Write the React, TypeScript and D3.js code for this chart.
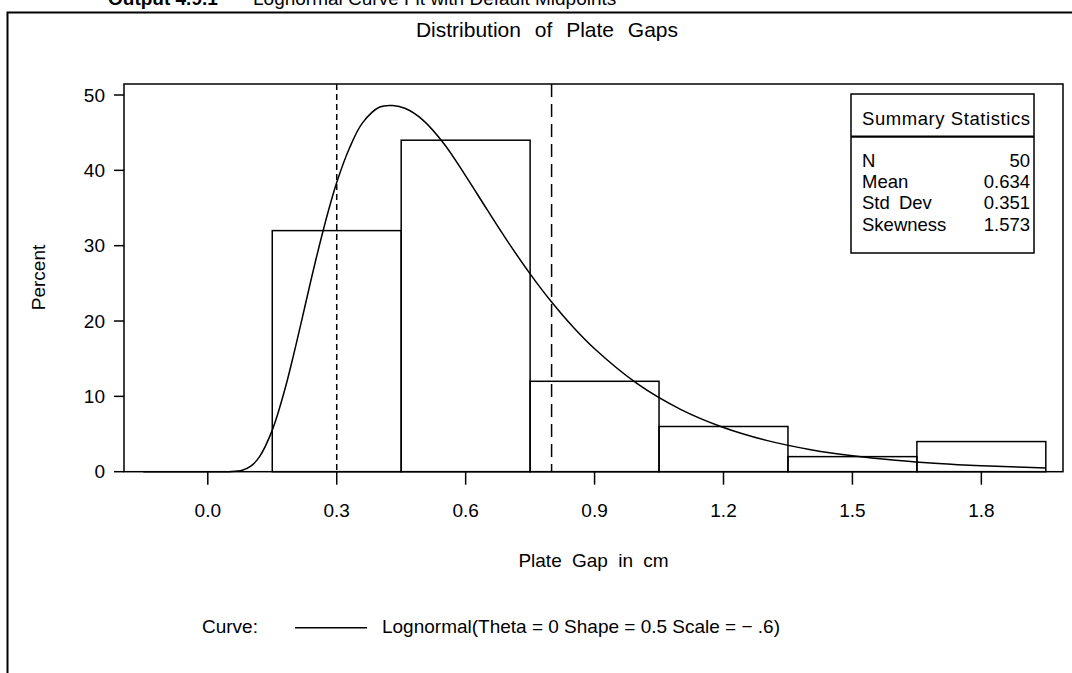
import React from "react";
import * as d3 from "d3";

const binStarts = [0.15, 0.45, 0.75, 1.05, 1.35, 1.65];
const binWidth = 0.3;
const binPercents = [32, 44, 12, 6, 2, 4];

const xTicks = [0.0, 0.3, 0.6, 0.9, 1.2, 1.5, 1.8];
const yTicks = [0, 10, 20, 30, 40, 50];

const curveX = [-0.15, 0, 0.05, 0.08, 0.1, 0.12, 0.15, 0.18, 0.2, 0.22, 0.25, 0.28, 0.3, 0.33, 0.36, 0.4, 0.43, 0.46, 0.5, 0.55, 0.6, 0.65, 0.7, 0.75, 0.8, 0.85, 0.9, 1.0, 1.1, 1.2, 1.3, 1.4, 1.5, 1.6, 1.7, 1.8, 1.9, 1.95];
const curveY = [0, 0, 0.005, 0.18, 0.73, 1.96, 5.52, 11.07, 15.6, 20.46, 27.8, 34.5, 38.4, 43.0, 46.3, 48.4, 48.6, 48.2, 46.7, 43.5, 39.27, 34.78, 30.38, 26.26, 22.52, 19.2, 16.31, 11.65, 8.28, 5.87, 4.16, 2.96, 2.11, 1.52, 1.09, 0.79, 0.58, 0.49];

const refLines = [0.3, 0.8];

const statLabels = ["N", "Mean", "Std Dev", "Skewness"];
const statValues = ["50", "0.634", "0.351", "1.573"];

const FONT = "'Liberation Sans', Arial, Helvetica, sans-serif";

export default function App() {
  const W = 1072, H = 673;
  const left = 124, right = 1063, top = 84, bottom = 471.7;
  const x = d3.scaleLinear().domain([-0.195, 1.99]).range([left, right]);
  const y = d3.scaleLinear().domain([0, (bottom - top) / 7.534]).range([bottom, top]);

  const line = d3
    .line<number>()
    .x((_, i) => x(curveX[i]))
    .y((d) => y(d))
    .curve(d3.curveCatmullRom.alpha(0.5));

  const fs = 19;
  return (
    <div style={{ position: "absolute", left: 0, top: 0, width: W, height: H, overflow: "hidden" }}>
      <svg width={W} height={H} style={{ display: "block", background: "#fff" }} fontFamily={FONT}>
        <rect x={0} y={0} width={W} height={H} fill="#fff" />
        {/* page header (cut off at the top) */}
        <text x={108} y={5} fontSize={19} fill="#000">
          <tspan fontWeight="bold">Output 4.9.1</tspan>
          <tspan x={253}>Lognormal Curve Fit with Default Midpoints</tspan>
        </text>
        {/* outer frame */}
        <path d={`M7.5,${H} L7.5,12.5 L${W},12.5`} fill="none" stroke="#000" strokeWidth={2} />
        {/* chart title */}
        <text x={547} y={37} fontSize={21} textAnchor="middle" wordSpacing={8}>
          Distribution of Plate Gaps
        </text>

        {/* bars */}
        {binStarts.map((s, i) => (
          <rect
            key={i}
            x={x(s)}
            y={y(binPercents[i])}
            width={x(s + binWidth) - x(s)}
            height={y(0) - y(binPercents[i])}
            fill="none"
            stroke="#000"
            strokeWidth={1.5}
          />
        ))}

        {/* reference lines */}
        <line x1={x(refLines[0])} x2={x(refLines[0])} y1={top} y2={bottom} stroke="#000" strokeWidth={1.5} strokeDasharray="6 4" />
        <line x1={x(refLines[1])} x2={x(refLines[1])} y1={top} y2={bottom} stroke="#000" strokeWidth={1.5} strokeDasharray="13 7" />

        {/* curve */}
        <path d={line(curveY) || ""} fill="none" stroke="#000" strokeWidth={1.5} />

        {/* plot frame */}
        <rect x={left} y={top} width={right - left} height={bottom - top} fill="none" stroke="#000" strokeWidth={1.5} />

        {/* y axis */}
        {yTicks.map((t) => (
          <g key={t}>
            <line x1={left - 10} x2={left} y1={y(t)} y2={y(t)} stroke="#000" strokeWidth={1.5} />
            <text x={105} y={y(t)} dy="0.35em" fontSize={fs} textAnchor="end">
              {t}
            </text>
          </g>
        ))}
        <text transform={`translate(45,277.5) rotate(-90)`} fontSize={fs} textAnchor="middle">
          Percent
        </text>

        {/* x axis */}
        {xTicks.map((t) => (
          <g key={t}>
            <line x1={x(t)} x2={x(t)} y1={bottom} y2={bottom + 13} stroke="#000" strokeWidth={1.5} />
            <text x={x(t)} y={516.5} fontSize={fs} textAnchor="middle">
              {t.toFixed(1)}
            </text>
          </g>
        ))}
        <text x={(left + right) / 2} y={566.5} fontSize={fs} textAnchor="middle" wordSpacing={5}>
          Plate Gap in cm
        </text>

        {/* summary statistics inset */}
        <rect x={851} y={94} width={183} height={159} fill="#fff" stroke="#000" strokeWidth={1.5} />
        <line x1={851} x2={1034} y1={136.7} y2={136.7} stroke="#000" strokeWidth={2.2} />
        <text x={862} y={125} fontSize={18.5} textLength={168} lengthAdjust="spacing">
          Summary Statistics
        </text>
        {statLabels.map((l, i) => (
          <g key={l}>
            <text x={862} y={167 + i * 21.2} fontSize={18.5} wordSpacing={4}>
              {l}
            </text>
            <text x={1030} y={167 + i * 21.2} fontSize={18.5} textAnchor="end">
              {statValues[i]}
            </text>
          </g>
        ))}

        {/* legend */}
        <text x={202} y={633} fontSize={fs}>Curve:</text>
        <line x1={295} x2={367} y1={627.7} y2={627.7} stroke="#000" strokeWidth={1.5} />
        <text x={382} y={633} fontSize={fs} textLength={398} lengthAdjust="spacingAndGlyphs">
          Lognormal(Theta = 0  Shape = 0.5  Scale = − .6)
        </text>
      </svg>
    </div>
  );
}
